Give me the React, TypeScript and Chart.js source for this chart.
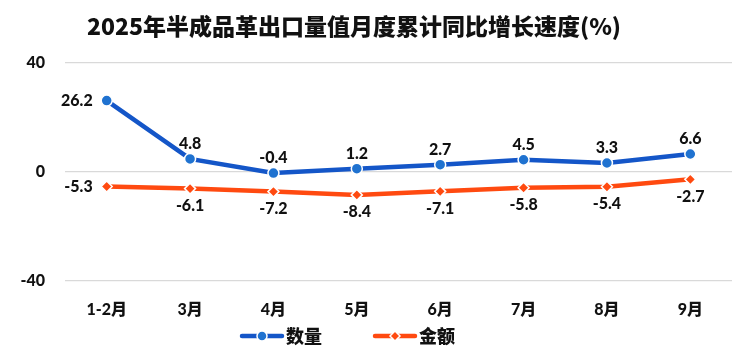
import React, { useEffect, useRef } from "react";
import { Chart, registerables } from "chart.js";

Chart.register(...registerables);

const TITLE = "2025年半成品革出口量值月度累计同比增长速度(%)";
const categories = ["1-2月", "3月", "4月", "5月", "6月", "7月", "8月", "9月"];
const quantity = [26.2, 4.8, -0.4, 1.2, 2.7, 4.5, 3.3, 6.6];
const amount = [-5.3, -6.1, -7.2, -8.4, -7.1, -5.8, -5.4, -2.7];
const seriesNames = ["数量", "金额"];
const yTicks = [-40, 0, 40];

const BLUE_LINE = "#1456C8";
const BLUE_PT = "#1F72D0";
const ORANGE_LINE = "#FF4A10";
const ORANGE_PT = "#FF4A10";
const FONT = "Lato, 'Noto Sans CJK SC', sans-serif";
const CJK = "'Noto Sans CJK SC', sans-serif";

const labelPlugin = {
  id: "labels",
  afterDatasetsDraw(chart: any) {
    const ctx = chart.ctx;
    ctx.save();
    ctx.font = `900 16px ${FONT}`;
    ctx.fillStyle = "#111";
    ctx.textBaseline = "middle";
    chart.data.datasets.forEach((ds: any, di: number) => {
      const meta = chart.getDatasetMeta(di);
      meta.data.forEach((pt: any, i: number) => {
        const v = ds.data[i];
        const txt = v.toFixed(1);
        if (i === 0) {
          ctx.textAlign = "right";
          ctx.fillText(txt, pt.x - 14, pt.y);
        } else {
          ctx.textAlign = "center";
          ctx.fillText(txt, pt.x, di === 0 ? pt.y - 15 : pt.y + 17);
        }
      });
    });
    ctx.restore();
  },
};

const titleLegendPlugin = {
  id: "titleLegend",
  afterDraw(chart: any) {
    const ctx = chart.ctx;
    ctx.save();
    ctx.fillStyle = "#111";
    ctx.font = `900 23px ${CJK}`;
    ctx.textAlign = "center";
    ctx.textBaseline = "middle";
    ctx.fillText(TITLE, 354, 26);

    const items = [
      { name: seriesNames[0], line: BLUE_LINE, pt: BLUE_PT, style: "circle", x: 240 },
      { name: seriesNames[1], line: ORANGE_LINE, pt: ORANGE_PT, style: "diamond", x: 373 },
    ];
    const y = 336;
    items.forEach((it) => {
      ctx.strokeStyle = it.line;
      ctx.lineWidth = 4.5;
      ctx.lineCap = "round";
      ctx.beginPath();
      ctx.moveTo(it.x + 2, y);
      ctx.lineTo(it.x + 42, y);
      ctx.stroke();
      const cx = it.x + 22;
      ctx.fillStyle = it.pt;
      ctx.strokeStyle = "#fff";
      ctx.lineWidth = 1.5;
      ctx.beginPath();
      if (it.style === "circle") {
        ctx.arc(cx, y, 5, 0, Math.PI * 2);
      } else {
        ctx.moveTo(cx, y - 5);
        ctx.lineTo(cx + 5, y);
        ctx.lineTo(cx, y + 5);
        ctx.lineTo(cx - 5, y);
        ctx.closePath();
      }
      ctx.fill();
      ctx.stroke();
      ctx.fillStyle = "#111";
      ctx.font = `900 18px ${CJK}`;
      ctx.textAlign = "left";
      ctx.fillText(it.name, it.x + 46, y);
    });
    ctx.restore();
  },
};

export default function App() {
  const ref = useRef<HTMLCanvasElement>(null);
  useEffect(() => {
    if (!ref.current) return;
    const chart = new Chart(ref.current, {
      type: "line",
      data: {
        labels: categories,
        datasets: [
          {
            label: seriesNames[0],
            data: quantity,
            borderColor: BLUE_LINE,
            backgroundColor: BLUE_PT,
            pointBackgroundColor: BLUE_PT,
            pointBorderColor: "#fff",
            pointBorderWidth: 1.5,
            pointRadius: 5.5,
            pointStyle: "circle",
            borderWidth: 4.5,
            tension: 0,
          },
          {
            label: seriesNames[1],
            data: amount,
            borderColor: ORANGE_LINE,
            backgroundColor: ORANGE_PT,
            pointBackgroundColor: ORANGE_PT,
            pointBorderColor: "#fff",
            pointBorderWidth: 1.5,
            pointRadius: 5.5,
            pointStyle: "rectRot",
            borderWidth: 4.5,
            tension: 0,
          },
        ],
      },
      options: {
        animation: false,
        responsive: true,
        maintainAspectRatio: false,
        layout: { padding: { top: 63, right: 18, bottom: 0, left: 0 } },
        plugins: {
          legend: { display: false },
          title: { display: false },
          tooltip: { enabled: false },
        },
        scales: {
          x: {
            offset: true,
            grid: { display: false },
            border: { display: false },
            ticks: {
              color: "#111",
              font: { family: FONT, size: 16, weight: "900" },
              padding: 11,
            },
            afterFit(scale: any) {
              scale.height = 72;
            },
          },
          y: {
            min: -40,
            max: 40,
            afterBuildTicks(scale: any) {
              scale.ticks = yTicks.map((v) => ({ value: v }));
            },
            grid: { color: "#d9d9d9", lineWidth: 1.2, drawTicks: false },
            border: { display: false },
            ticks: {
              color: "#111",
              font: { family: FONT, size: 16, weight: "900" },
              padding: 20,
            },
            afterFit(scale: any) {
              scale.width = 65;
            },
          },
        },
      },
      plugins: [labelPlugin, titleLegendPlugin],
    });
    return () => chart.destroy();
  }, []);
  return (
    <div style={{ position: "fixed", left: 0, top: 0, width: 750, height: 353, background: "#fff" }}>
      <canvas ref={ref} />
    </div>
  );
}
